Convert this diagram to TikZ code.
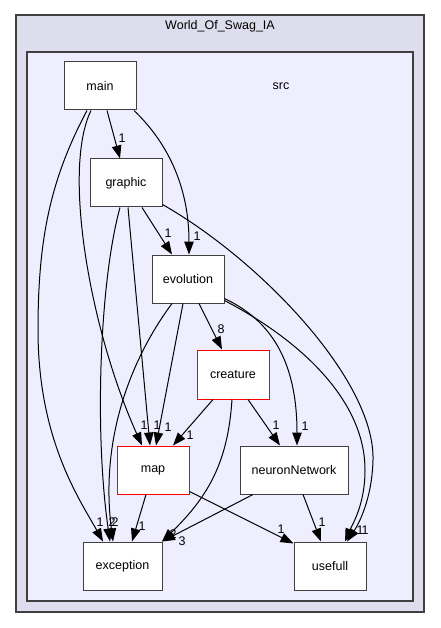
\documentclass[tikz,border=0pt]{standalone}
\usepackage{fontspec}
\setmainfont{Liberation Sans}
\usetikzlibrary{arrows.meta}
\definecolor{outerfill}{HTML}{DDDDEE}
\definecolor{innerfill}{HTML}{EEEEFF}
\definecolor{bordergray}{HTML}{404040}
\begin{document}
\begin{tikzpicture}[x=1pt,y=-1pt,
  font=\fontsize{12.5}{15}\selectfont,
  dirbox/.style={draw=bordergray,line width=1pt,fill=white,minimum width=72pt,minimum height=48pt,inner sep=0pt},
  redbox/.style={dirbox,draw=red},
  dep/.style={draw=black,line width=1pt,-{Triangle[length=13pt,width=9.5pt]}},
  lbl/.style={inner sep=0pt,font=\fontsize{12.5}{15}\selectfont}]
\useasboundingbox (0,0) rectangle (440,628);
% clusters
\draw[draw=bordergray,line width=1.4pt,fill=outerfill] (16,15) rectangle (424,612);
\node[inner sep=0pt] (title) at (220,26) {World\_Of\_Swag\_IA};
\draw[draw=bordergray,line width=1.4pt,fill=innerfill] (27,52) rectangle (413,601);
\node[inner sep=0pt] (srclabel) at (281,86) {src};
% nodes
\node[dirbox] (main) at (100,86) {main};
\node[dirbox] (graphic) at (126,183) {graphic};
\node[dirbox] (evolution) at (188,279) {evolution};
\node[redbox,minimum height=49pt] (creature) at (233,374.5) {creature};
\node[redbox] (map) at (153,470) {map};
\node[dirbox,minimum width=108pt] (neuronNetwork) at (294,470) {neuronNetwork};
\node[dirbox,minimum width=79pt] (exception) at (122.5,566) {exception};
\node[dirbox] (usefull) at (330,566) {usefull};
% edges from main
\draw[dep] ([xshift=7pt]main.south) -- ([xshift=-6pt]graphic.north);
\draw[dep] ([xshift=34pt]main.south) .. controls (170,145) and (189,190) .. ([xshift=1pt]evolution.north);
\draw[dep] ([xshift=-9pt]main.south) .. controls (62,170) and (90,330) .. ([xshift=-11pt]map.north);
\draw[dep] ([xshift=-13pt]main.south) .. controls (50,180) and (38,240) .. (38,330) .. controls (38,440) and (80,500) .. ([xshift=-19.5pt]exception.north);
% edges from graphic
\draw[dep] ([xshift=16pt]graphic.south) -- ([xshift=-16pt]evolution.north);
\draw[dep] ([xshift=2pt]graphic.south) -- ([xshift=-3pt]map.north);
\draw[dep] ([xshift=-6pt]graphic.south) .. controls (100,280) and (94,430) .. ([xshift=-12.5pt]exception.north);
\draw[dep] ([yshift=3pt]graphic.south east) .. controls (260,260) and (375,380) .. (373,460) .. controls (372,500) and (358,525) .. ([xshift=17pt]usefull.north);
% edges from evolution
\draw[dep] ([xshift=11pt]evolution.south) -- ([xshift=-11pt]creature.north);
\draw[dep] ([xshift=-5pt]evolution.south) -- ([xshift=3pt]map.north);
\draw[dep] ([xshift=-16pt]evolution.south) .. controls (130,360) and (100,440) .. ([xshift=-9.5pt]exception.north);
\draw[dep] ([yshift=5pt]evolution.south east) .. controls (270,320) and (297,360) .. ([xshift=3pt]neuronNetwork.north);
\draw[dep] ([yshift=3pt]evolution.south east) .. controls (300,340) and (365,400) .. (365,470) .. controls (365,505) and (352,525) .. ([xshift=15pt]usefull.north);
% edges from creature
\draw[dep] ([xshift=-20pt]creature.south) -- ([xshift=20pt]map.north);
\draw[dep] ([xshift=15pt]creature.south) -- ([xshift=-14pt]neuronNetwork.north);
\draw[dep] ([xshift=-1pt]creature.south) .. controls (228,460) and (210,495) .. ([xshift=-0.5pt]exception.north east);
% edges from map
\draw[dep] ([xshift=-7pt]map.south) -- ([xshift=9.5pt]exception.north);
\draw[dep] ([yshift=3pt]map.south east) -- ([yshift=-2pt]usefull.north west);
% edges from neuronNetwork
\draw[dep] ([xshift=-41pt]neuronNetwork.south) -- ([xshift=-0.5pt]exception.north east);
\draw[dep] ([xshift=9pt]neuronNetwork.south) -- ([xshift=-9pt]usefull.north);
% labels
\node[lbl] (l1) at (122,138) {1};
\node[lbl] (l2) at (168,233) {1};
\node[lbl] (l3) at (197,236) {1};
\node[lbl] (l4) at (221,329) {8};
\node[lbl] (l5) at (144,425) {1};
\node[lbl] (l6) at (157,425) {1};
\node[lbl] (l7) at (168,427) {1};
\node[lbl] (l8) at (190,435) {1};
\node[lbl] (l9) at (276,425) {1};
\node[lbl] (l10) at (305,426) {1};
\node[lbl] (l11) at (100,522) {1};
\node[lbl] (l12) at (112,522) {2};
\node[lbl] (l13) at (115,522) {2};
\node[lbl] (l14) at (142,526) {1};
\node[lbl] (l15) at (173,534) {2};
\node[lbl] (l16) at (182,541) {3};
\node[lbl] (l17) at (281,529) {1};
\node[lbl] (l18) at (322,522) {1};
\node[lbl] (l19) at (360,530) {1};
\node[lbl] (l20) at (365,530) {1};
\end{tikzpicture}
\end{document}
